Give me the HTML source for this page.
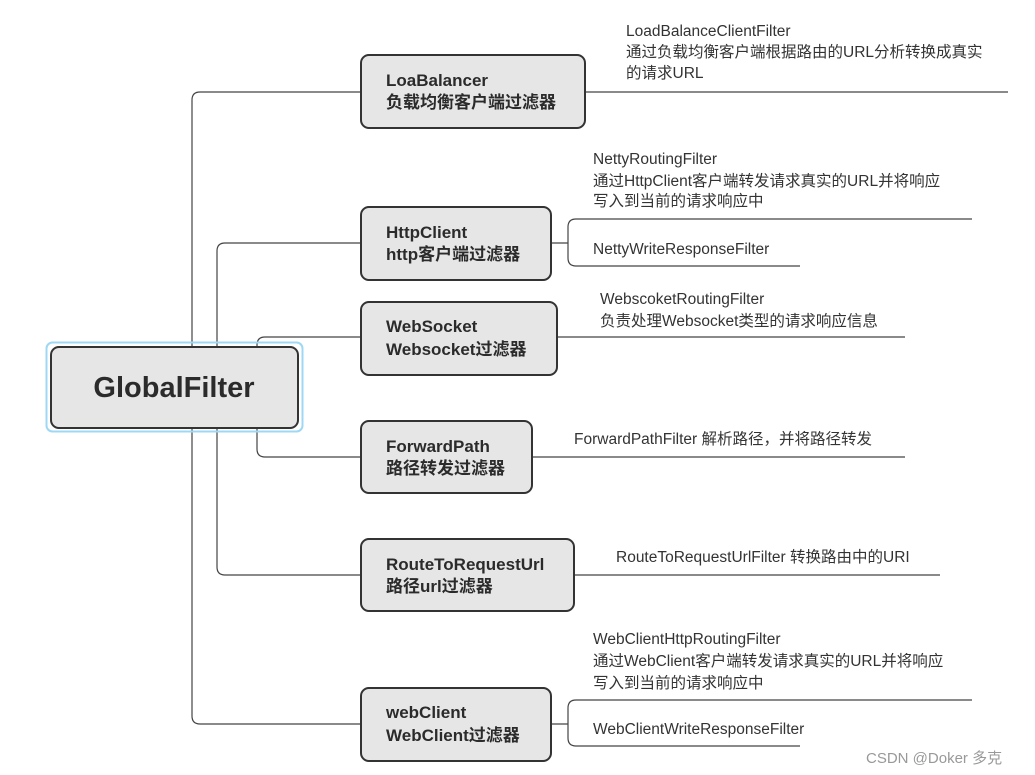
<!DOCTYPE html>
<html><head><meta charset="utf-8"><style>
html,body{margin:0;padding:0;background:#fff;}
svg{display:block;}
text{font-family:"Liberation Sans","Noto Sans CJK SC",sans-serif;fill:#333;}
.b{font-size:17px;font-weight:bold;fill:#2b2b2b;}
.t{font-size:15.5px;}
</style></head><body>
<svg width="1035" height="775" viewBox="0 0 1035 775" xmlns="http://www.w3.org/2000/svg">
<g fill="none" stroke="#444" stroke-width="1.2">
<path d="M361 92 H200 Q192 92 192 100 V716 Q192 724 200 724 H361"/>
<path d="M361 243 H225 Q217 243 217 251 V567 Q217 575 225 575 H361"/>
<path d="M361 337 H265 Q257 337 257 345 V449 Q257 457 265 457 H361"/>
<path d="M585 92 H1008"/>
<path d="M551 243 H568"/>
<path d="M972 219 H576 Q568 219 568 227 V258 Q568 266 576 266 H800"/>
<path d="M557 337 H905"/>
<path d="M532 457 H905"/>
<path d="M574 575 H940"/>
<path d="M551 724 H568"/>
<path d="M972 700 H576 Q568 700 568 708 V738 Q568 746 576 746 H800"/>
</g>
<rect x="46.5" y="342.5" width="256" height="89" rx="6" fill="none" stroke="#9fd8f4" stroke-width="2"/>
<g fill="#e6e6e6" stroke="#333" stroke-width="2">
<rect x="51" y="347" width="247" height="81" rx="8"/>
<rect x="361" y="55" width="224" height="73" rx="8"/>
<rect x="361" y="207" width="190" height="73" rx="8"/>
<rect x="361" y="302" width="196" height="73" rx="8"/>
<rect x="361" y="421" width="171" height="72" rx="8"/>
<rect x="361" y="539" width="213" height="72" rx="8"/>
<rect x="361" y="688" width="190" height="73" rx="8"/>
</g>
<text x="174" y="397" text-anchor="middle" style="font-size:29px;font-weight:bold;fill:#2b2b2b">GlobalFilter</text>
<text class="b" x="386" y="86">LoaBalancer</text><text class="b" x="386" y="108">负载均衡客户端过滤器</text>
<text class="b" x="386" y="238">HttpClient</text><text class="b" x="386" y="260">http客户端过滤器</text>
<text class="b" x="386" y="332">WebSocket</text><text class="b" x="386" y="355">Websocket过滤器</text>
<text class="b" x="386" y="452">ForwardPath</text><text class="b" x="386" y="474">路径转发过滤器</text>
<text class="b" x="386" y="570">RouteToRequestUrl</text><text class="b" x="386" y="592">路径url过滤器</text>
<text class="b" x="386" y="718">webClient</text><text class="b" x="386" y="741">WebClient过滤器</text>
<text class="t" x="626" y="36">LoadBalanceClientFilter</text>
<text class="t" x="626" y="57">通过负载均衡客户端根据路由的URL分析转换成真实</text>
<text class="t" x="626" y="78">的请求URL</text>
<text class="t" x="593" y="164">NettyRoutingFilter</text>
<text class="t" x="593" y="186">通过HttpClient客户端转发请求真实的URL并将响应</text>
<text class="t" x="593" y="206">写入到当前的请求响应中</text>
<text class="t" x="593" y="254">NettyWriteResponseFilter</text>
<text class="t" x="600" y="304">WebscoketRoutingFilter</text>
<text class="t" x="600" y="326">负责处理Websocket类型的请求响应信息</text>
<text class="t" x="574" y="444">ForwardPathFilter 解析路径，并将路径转发</text>
<text class="t" x="616" y="562">RouteToRequestUrlFilter 转换路由中的URI</text>
<text class="t" x="593" y="644">WebClientHttpRoutingFilter</text>
<text class="t" x="593" y="666">通过WebClient客户端转发请求真实的URL并将响应</text>
<text class="t" x="593" y="688">写入到当前的请求响应中</text>
<text class="t" x="593" y="734">WebClientWriteResponseFilter</text>
<text x="866" y="763" style="font-size:15px;fill:#999">CSDN @Doker 多克</text>
</svg>
</body></html>
